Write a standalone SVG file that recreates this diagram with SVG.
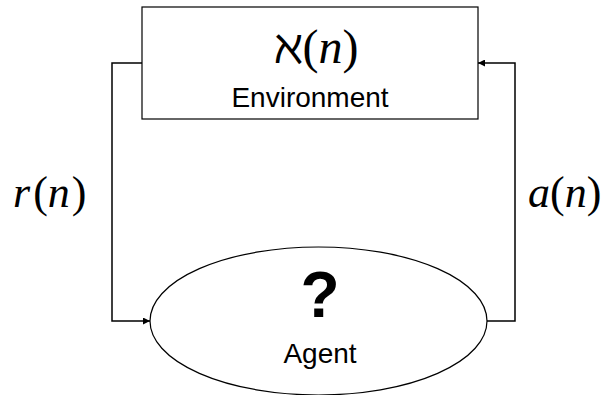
<svg xmlns="http://www.w3.org/2000/svg" width="607" height="395" viewBox="0 0 607 395">
<style>
.sh{fill:#fff;stroke:#000;stroke-width:1.2}
.ln{fill:none;stroke:#000;stroke-width:1.5}
.math{font-family:"Liberation Serif","DejaVu Serif",serif;font-size:44px;fill:#000}
.lab{font-family:"Liberation Sans",Arial,sans-serif;font-size:28px;fill:#000;text-anchor:middle}
.q{font-family:"Liberation Sans",Arial,sans-serif;font-size:64px;font-weight:bold;fill:#000;text-anchor:middle}
</style>
<defs>
<marker id="ah" viewBox="0 0 10 10" refX="10" refY="5" markerWidth="9" markerHeight="7" markerUnits="userSpaceOnUse" orient="auto">
<path d="M0,0 L10,5 L0,10 z" fill="#000"/>
</marker>
</defs>
<rect width="607" height="395" fill="#fff"/>
<g id="connectors">
<polyline class="ln" points="142,63 112,63 112,321 150,321" marker-end="url(#ah)"/>
<polyline class="ln" points="487,321 515,321 515,63 478,63" marker-end="url(#ah)"/>
</g>
<g id="environment">
<rect class="sh" x="142" y="7" width="336" height="112"/>
<text class="math" x="316" y="63" text-anchor="middle" style="font-size:48px">ℵ(<tspan font-style="italic">n</tspan>)</text>
<text class="lab" x="310" y="107">Environment</text>
</g>
<g id="agent">
<ellipse class="sh" cx="318.5" cy="321" rx="168.5" ry="74"/>
<text class="q" x="320" y="317">?</text>
<text class="lab" x="320" y="363">Agent</text>
</g>
<g id="labels">
<text class="math" x="13" y="207"><tspan font-style="italic">r</tspan><tspan dx="3">(</tspan><tspan font-style="italic">n</tspan><tspan dx="2">)</tspan></text>
<text class="math" x="528" y="207"><tspan font-style="italic">a</tspan>(<tspan font-style="italic">n</tspan>)</text>
</g>
</svg>
